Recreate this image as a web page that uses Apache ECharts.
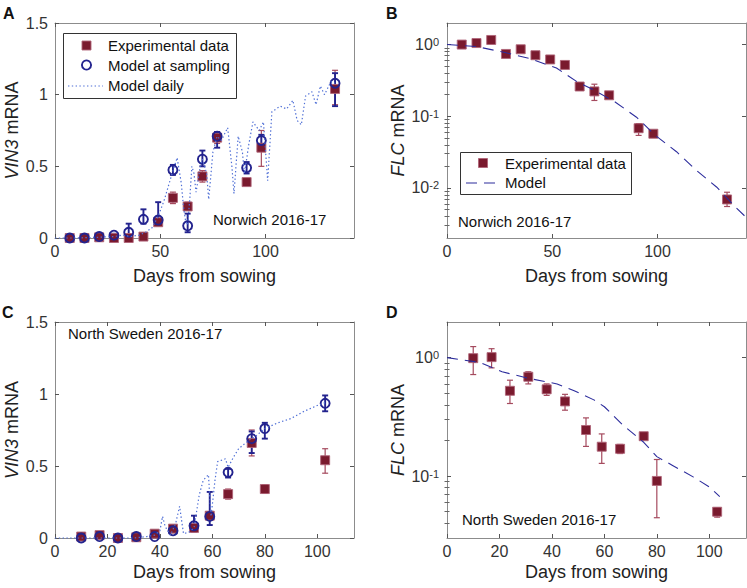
<!DOCTYPE html>
<html><head><meta charset="utf-8">
<script src="https://cdn.jsdelivr.net/npm/echarts@6/dist/echarts.min.js"></script>
<style>html,body{margin:0;padding:0;background:#fff}#c{width:747px;height:588px}</style>
</head><body><div id="c"></div>
<script>
// ---------------- DATA ----------------
// Panel A (Norwich, VIN3)
const daysA = [7,14,21,28,35,42,49,56,63,70,77,91,98,133];
const vin3ExpA = [0,0,0.005,0,0,0.01,0.11,0.28,0.22,0.43,0.70,0.39,0.63,1.04];
const vin3ExpLowA = [0,0,0,0,0,0.005,0.09,0.24,0.20,0.39,0.66,0.37,0.50,0.93];
const vin3ExpHighA = [0.005,0.005,0.01,0.005,0.005,0.015,0.13,0.32,0.25,0.47,0.74,0.41,0.75,1.17];
const vin3ModA = [0,0,0.01,0.02,0.04,0.13,0.125,0.475,0.085,0.55,0.71,0.49,0.68,1.08];
const vin3ModLowA = [0,0,0.005,0.01,0.02,0.10,0.10,0.44,0.04,0.50,0.63,0.45,0.64,0.92];
const vin3ModHighA = [0.005,0.005,0.015,0.03,0.10,0.20,0.25,0.51,0.17,0.61,0.74,0.53,0.72,1.15];
const dailyDaysA = [0,10,20,28,32,36,40,43,46,49,52,55,58,60,61,62,63,64,65,66,67,69,70,72,73,75,77,79,82,84,85,87,89,90,92,94,97,99,101,103,107,110,113,115,117,119,122,124,126,128,131,133];
const dailyVin3A = [0,0,0.005,0.01,0.02,0.01,0.02,0.04,0.07,0.15,0.27,0.42,0.56,0.38,0.22,0.12,0.09,0.27,0.5,0.45,0.32,0.5,0.55,0.45,0.27,0.6,0.71,0.68,0.77,0.5,0.31,0.71,0.6,0.45,0.65,0.81,0.75,0.81,0.4,0.88,0.92,0.9,0.96,0.82,0.79,0.99,1.02,0.93,1.06,1.0,1.09,1.08];

// Panel B (Norwich, FLC)
const flcExpB = [1.0,1.05,1.16,0.74,0.86,0.71,0.62,0.52,0.26,0.222,0.196,0.068,0.057,0.0069];
const flcExpLowB = [0.95,1.0,1.10,0.70,0.82,0.67,0.58,0.49,0.23,0.166,0.185,0.054,0.054,0.0055];
const flcExpHighB = [1.05,1.10,1.22,0.78,0.90,0.75,0.66,0.55,0.29,0.28,0.21,0.079,0.060,0.0087];
const flcModelDaysB = [0,14,27,40,52,62,70,80,90,99,109,118,128,137,142];
const flcModelB = [1.0,0.94,0.78,0.63,0.47,0.30,0.23,0.157,0.097,0.054,0.032,0.018,0.0103,0.0054,0.0039];

// Panel C (North Sweden, VIN3)
const daysC = [10,17,24,31,38,45,53,59,66,75,80,103];
const vin3ExpC = [0.01,0.02,0,0.005,0.03,0.065,0.07,0.155,0.305,0.66,0.34,0.54];
const vin3ExpLowC = [0.005,0.015,0,0,0.025,0.055,0.06,0.14,0.27,0.57,0.31,0.45];
const vin3ExpHighC = [0.015,0.025,0.005,0.01,0.035,0.075,0.08,0.17,0.34,0.75,0.37,0.62];
const vin3ModC = [0,0.01,0,0.01,0.01,0.05,0.085,0.15,0.456,0.69,0.76,0.935];
const vin3ModLowC = [0,0.005,0,0.005,0.005,0.04,0.045,0.09,0.42,0.59,0.69,0.88];
const vin3ModHighC = [0.005,0.015,0.005,0.015,0.015,0.06,0.155,0.32,0.48,0.74,0.80,0.99];
const dailyDaysC = [0,30,35,38,40,41,42,44,46,47.5,49,51,53,55,56.5,58.5,59.5,61,62,65,66,68,70,74,76,80,85,90,95,100,103];
const dailyVin3C = [0,0,0.01,0.02,0.05,0.15,0.08,0.02,0.1,0.22,0.03,0.04,0.07,0.3,0.4,0.44,0.15,0.4,0.53,0.55,0.49,0.56,0.62,0.68,0.7,0.76,0.8,0.83,0.88,0.92,0.94];

// Panel D (North Sweden, FLC)
const flcExpD = [0.99,1.01,0.525,0.69,0.54,0.427,0.245,0.177,0.17,0.217,0.091,0.05];
const flcExpLowD = [0.72,0.82,0.41,0.60,0.48,0.36,0.178,0.128,0.155,0.205,0.0445,0.045];
const flcExpHighD = [1.24,1.19,0.645,0.76,0.60,0.49,0.31,0.227,0.185,0.23,0.138,0.054];
const flcModelDaysD = [0,12.5,21,31,42,48.5,56,60,67,75,80,86,94,100,104];
const flcModelD = [1.0,0.91,0.76,0.67,0.60,0.525,0.44,0.385,0.27,0.193,0.146,0.123,0.098,0.081,0.067];

// Tick labels
const xTicksAB = [0,50,100];
const xTicksCD = [0,20,40,60,80,100];
const yTicksLin = [0,0.5,1,1.5];
const yTicksLogB = [0.01,0.1,1];
const yTicksLogD = [0.1,1];

// ---------------- STYLE ----------------
const FONT = '"Liberation Sans", Arial, Helvetica, sans-serif';
const BOX = '#8c8c8c';
const RED = '#7a1a2e';
const REDERR = '#a54a5e';
const BLUE = '#23238e';
const DOT = '#4f6fd6';
const DASH = '#2c2c9c';
const TICKFS = 16;

function minorLog(min, max) {
  const out = [];
  for (let e = -4; e <= 1; e++) {
    for (let m = 2; m <= 9; m++) {
      const v = +(m * Math.pow(10, e)).toPrecision(6);
      if (v > min && v < max) out.push(v);
    }
  }
  return out;
}

function xAxes(gi, max, ticks, gap) {
  const common = {
    type: 'value', gridIndex: gi, min: 0, max: max,
    axisLine: {show: true, onZero: false, lineStyle: {color: BOX, width: 1}},
    splitLine: {show: false}
  };
  return [
    Object.assign({}, common, {
      position: 'bottom',
      name: 'Days from sowing', nameLocation: 'middle', nameGap: gap,
      nameTextStyle: {fontSize: 18, color: '#222', fontFamily: FONT},
      axisTick: {show: true, inside: true, length: 4, customValues: ticks, lineStyle: {color: '#555'}},
      axisLabel: {show: true, customValues: ticks, fontSize: TICKFS, color: '#333', margin: 5, fontFamily: FONT}
    }),
    Object.assign({}, common, {
      position: 'top',
      axisTick: {show: true, inside: true, length: 4, customValues: ticks, lineStyle: {color: '#555'}},
      axisLabel: {show: false}
    })
  ];
}

function yAxesLin(gi, gap) {
  const common = {
    type: 'value', gridIndex: gi, min: 0, max: 1.5,
    axisLine: {show: true, onZero: false, lineStyle: {color: BOX, width: 1}},
    splitLine: {show: false}
  };
  return [
    Object.assign({}, common, {
      position: 'left',
      name: '{i|VIN3} mRNA', nameLocation: 'middle', nameGap: gap,
      nameTextStyle: {fontSize: 18, color: '#222', fontFamily: FONT,
        rich: {i: {fontStyle: 'italic', fontSize: 18, color: '#222', fontFamily: FONT}}},
      axisTick: {show: true, inside: true, length: 4, customValues: yTicksLin, lineStyle: {color: '#555'}},
      axisLabel: {show: true, customValues: yTicksLin, fontSize: TICKFS, color: '#333', margin: 7, fontFamily: FONT}
    }),
    Object.assign({}, common, {
      position: 'right',
      axisTick: {show: true, inside: true, length: 4, customValues: yTicksLin, lineStyle: {color: '#555'}},
      axisLabel: {show: false}
    })
  ];
}

function logFmt(v) {
  const e = Math.round(Math.log10(v));
  return '10{s|' + e + '}';
}

function yAxesLog(gi, min, max, ticks, gap) {
  const common = {
    type: 'log', logBase: 10, gridIndex: gi, min: min, max: max,
    splitLine: {show: false}
  };
  const minor = minorLog(min, max);
  return [
    Object.assign({}, common, {
      position: 'left',
      name: '{i|FLC} mRNA', nameLocation: 'middle', nameGap: gap,
      nameTextStyle: {fontSize: 18, color: '#222', fontFamily: FONT,
        rich: {i: {fontStyle: 'italic', fontSize: 18, color: '#222', fontFamily: FONT}}},
      axisLine: {show: true, onZero: false, lineStyle: {color: BOX, width: 1}},
      axisTick: {show: true, inside: true, length: 4, customValues: ticks, lineStyle: {color: '#555'}},
      axisLabel: {show: true, customValues: ticks, formatter: logFmt, fontSize: TICKFS, color: '#333', margin: 8, fontFamily: FONT,
        rich: {s: {fontSize: 11, color: '#333', fontFamily: FONT, verticalAlign: 'top', lineHeight: 11, padding: [0, 0, 6, 0]}}}
    }),
    Object.assign({}, common, {
      position: 'right',
      axisLine: {show: true, onZero: false, lineStyle: {color: BOX, width: 1}},
      axisTick: {show: true, inside: true, length: 4, customValues: ticks, lineStyle: {color: '#555'}},
      axisLabel: {show: false}
    }),
    Object.assign({}, common, {
      position: 'left',
      axisLine: {show: false},
      axisTick: {show: true, inside: true, length: 2.5, customValues: minor, lineStyle: {color: '#666'}},
      axisLabel: {show: false}
    }),
    Object.assign({}, common, {
      position: 'right',
      axisLine: {show: false},
      axisTick: {show: true, inside: true, length: 2.5, customValues: minor, lineStyle: {color: '#666'}},
      axisLabel: {show: false}
    })
  ];
}

function zip(xs, ys) { return xs.map((x, i) => [x, ys[i]]); }

function errBars(xs, lo, hi, xi, yi, color, lw, cap) {
  return {
    type: 'custom', xAxisIndex: xi, yAxisIndex: yi, clip: false, silent: true,
    encode: {x: 0, y: [1, 2]},
    data: xs.map((x, i) => [x, lo[i], hi[i]]),
    renderItem: function (params, api) {
      const x = api.value(0), l = api.value(1), h = api.value(2);
      const a = api.coord([x, l]), b = api.coord([x, h]);
      const st = {stroke: color, lineWidth: lw, fill: null};
      return {type: 'group', children: [
        {type: 'line', shape: {x1: a[0], y1: a[1], x2: b[0], y2: b[1]}, style: st},
        {type: 'line', shape: {x1: a[0] - cap, y1: a[1], x2: a[0] + cap, y2: a[1]}, style: st},
        {type: 'line', shape: {x1: b[0] - cap, y1: b[1], x2: b[0] + cap, y2: b[1]}, style: st}
      ]};
    }
  };
}

function squares(xs, ys, xi, yi) {
  return {type: 'scatter', xAxisIndex: xi, yAxisIndex: yi, clip: false, symbol: 'rect', symbolSize: 9,
    itemStyle: {color: RED, borderColor: 'rgba(175,100,120,0.9)', borderWidth: 1, opacity: 1},
    data: zip(xs, ys)};
}
function circles(xs, ys, xi, yi) {
  return {type: 'scatter', xAxisIndex: xi, yAxisIndex: yi, clip: false, symbol: 'circle', symbolSize: 9,
    itemStyle: {color: 'rgba(255,255,255,0)', borderColor: BLUE, borderWidth: 1.9, opacity: 1},
    data: zip(xs, ys)};
}
function dotted(xs, ys, xi, yi) {
  return {type: 'line', xAxisIndex: xi, yAxisIndex: yi, showSymbol: false, symbol: 'none', clip: false,
    lineStyle: {color: DOT, width: 1.2, type: [1.4, 2.4]}, data: zip(xs, ys)};
}
function dashed(xs, ys, xi, yi) {
  return {type: 'line', xAxisIndex: xi, yAxisIndex: yi, showSymbol: false, symbol: 'none', clip: true,
    lineStyle: {color: DASH, width: 1.1, type: [11, 7]}, data: zip(xs, ys)};
}

// ---------------- GRAPHIC (letters, annotations, legends) ----------------
function txt(x, y, s, size, weight) {
  return {type: 'text', x: x, y: y, z: 100,
    style: {text: s, fill: '#111', font: (weight || 'normal') + ' ' + size + 'px ' + FONT, verticalAlign: 'middle', align: 'left'}};
}

const graphics = [
  txt(3, 13, 'A', 16, 'bold'), txt(386, 13, 'B', 16, 'bold'),
  txt(2, 312, 'C', 16, 'bold'), txt(386, 312, 'D', 16, 'bold'),
  txt(213, 219, 'Norwich 2016-17', 15),
  txt(458, 221, 'Norwich 2016-17', 15),
  txt(68, 333, 'North Sweden 2016-17', 15),
  txt(462, 519, 'North Sweden 2016-17', 15),
  // legend A
  {type: 'rect', z: 99, shape: {x: 63.5, y: 33.5, width: 173, height: 65}, style: {fill: '#fff', stroke: '#333', lineWidth: 1}},
  {type: 'rect', z: 100, shape: {x: 82, y: 41, width: 9, height: 9}, style: {fill: RED, stroke: 'rgba(175,100,120,0.9)', lineWidth: 1}},
  {type: 'circle', z: 100, shape: {cx: 86.5, cy: 65, r: 4.6}, style: {fill: 'none', stroke: BLUE, lineWidth: 1.9}},
  {type: 'line', z: 100, shape: {x1: 68, y1: 86, x2: 103, y2: 86}, style: {stroke: DOT, lineWidth: 1.2, lineDash: [1.4, 2.4]}},
  txt(108, 45, 'Experimental data', 15),
  txt(108, 65, 'Model at sampling', 15),
  txt(108, 85, 'Model daily', 15),
  // legend B
  {type: 'rect', z: 99, shape: {x: 460.5, y: 152.5, width: 171, height: 42}, style: {fill: '#fff', stroke: '#333', lineWidth: 1}},
  {type: 'rect', z: 100, shape: {x: 478.5, y: 158.5, width: 9, height: 9}, style: {fill: RED, stroke: 'rgba(175,100,120,0.9)', lineWidth: 1}},
  {type: 'line', z: 100, shape: {x1: 466, y1: 183, x2: 499, y2: 183}, style: {stroke: DASH, lineWidth: 1.1, lineDash: [11, 7]}},
  txt(505, 163, 'Experimental data', 15),
  txt(505, 182, 'Model', 15)
];

// ---------------- OPTION ----------------
const option = {
  animation: false,
  backgroundColor: '#fff',
  grid: [
    {left: 55, top: 23, width: 299, height: 215},
    {left: 447, top: 23, width: 299, height: 215},
    {left: 55, top: 322, width: 299, height: 216},
    {left: 447, top: 322, width: 299, height: 216}
  ],
  xAxis: [].concat(
    xAxes(0, 142, xTicksAB, 29),
    xAxes(1, 142, xTicksAB, 29),
    xAxes(2, 114, xTicksCD, 25),
    xAxes(3, 114, xTicksCD, 25)
  ),
  yAxis: [].concat(
    yAxesLin(0, 34),                       // 0,1
    yAxesLog(1, 0.002, 2, yTicksLogB, 40), // 2,3,4,5
    yAxesLin(2, 34),                       // 6,7
    yAxesLog(3, 0.03, 2, yTicksLogD, 40)   // 8,9,10,11
  ),
  series: [
    // A
    errBars(daysA, vin3ExpLowA, vin3ExpHighA, 0, 0, REDERR, 1.2, 3),
    squares(daysA, vin3ExpA, 0, 0),
    dotted(dailyDaysA, dailyVin3A, 0, 0),
    errBars(daysA, vin3ModLowA, vin3ModHighA, 0, 0, BLUE, 1.9, 3),
    circles(daysA, vin3ModA, 0, 0),
    // B
    errBars(daysA, flcExpLowB, flcExpHighB, 2, 2, REDERR, 1.2, 3),
    squares(daysA, flcExpB, 2, 2),
    dashed(flcModelDaysB, flcModelB, 2, 2),
    // C
    errBars(daysC, vin3ExpLowC, vin3ExpHighC, 4, 6, REDERR, 1.2, 3),
    squares(daysC, vin3ExpC, 4, 6),
    dotted(dailyDaysC, dailyVin3C, 4, 6),
    errBars(daysC, vin3ModLowC, vin3ModHighC, 4, 6, BLUE, 1.9, 3),
    circles(daysC, vin3ModC, 4, 6),
    // D
    errBars(daysC, flcExpLowD, flcExpHighD, 6, 8, REDERR, 1.2, 3),
    squares(daysC, flcExpD, 6, 8),
    dashed(flcModelDaysD, flcModelD, 6, 8)
  ],
  graphic: graphics
};

const chart = echarts.init(document.getElementById('c'), null, {renderer: 'svg', width: 747, height: 588});
chart.setOption(option);
</script></body></html>
